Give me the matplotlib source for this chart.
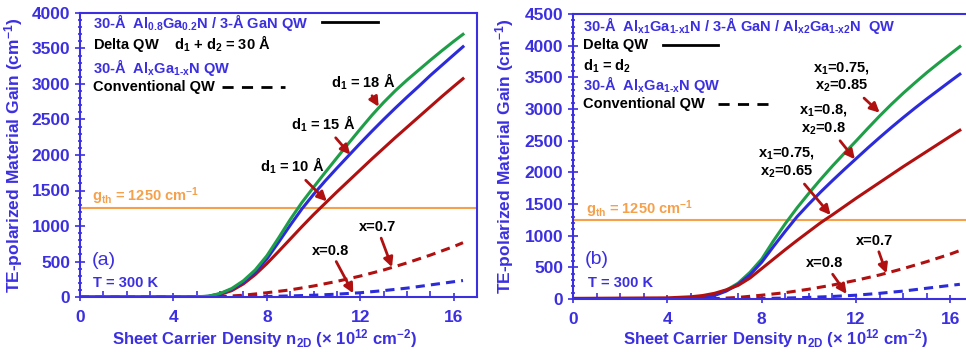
import matplotlib
matplotlib.use("Agg")
import matplotlib.pyplot as plt
from matplotlib.ticker import MultipleLocator

plt.rcParams['font.family'] = ['Liberation Sans', 'DejaVu Sans']
plt.rcParams['font.weight'] = 'bold'
plt.rcParams['axes.labelweight'] = 'bold'
plt.rcParams['mathtext.fontset'] = 'custom'
plt.rcParams['mathtext.rm'] = 'Liberation Sans:bold'
plt.rcParams['mathtext.it'] = 'Liberation Sans:bold'
plt.rcParams['mathtext.bf'] = 'Liberation Sans:bold'
plt.rcParams['mathtext.default'] = 'rm'

# carrier density (x 10^12 cm^-2)
n_delta = [0, 4, 5, 5.5, 6, 6.5, 7, 7.5, 8, 8.5, 9, 9.5, 10, 10.5, 11, 11.5, 12, 12.5,
           13, 13.5, 14, 14.5, 15, 15.5, 16, 16.4]
n_conv = [0, 5, 6, 7, 8, 9, 10, 11, 12, 13, 14, 15, 16, 16.4]

# panel (a): delta QW, d1 + d2 = 30 A
gain_d18 = [0, 0, 3, 12, 50, 120, 230, 380, 580, 830, 1090, 1330, 1545, 1755, 1960, 2165, 2365, 2560,
            2740, 2905, 3055, 3195, 3335, 3470, 3600, 3700]
gain_d15 = [0, 0, 2, 10, 45, 110, 210, 350, 535, 770, 1010, 1240, 1445, 1635, 1815, 1990, 2165, 2335,
            2500, 2660, 2815, 2965, 3120, 3265, 3410, 3525]
gain_d10 = [0, 0, 2, 8, 35, 90, 185, 315, 470, 640, 815, 990, 1160, 1320, 1480, 1635, 1790, 1945,
            2095, 2245, 2390, 2535, 2680, 2825, 2965, 3075]

# panel (b): asymmetric delta QW, d1 = d2
gain_085 = [0, 0, 5, 20, 65, 140, 250, 420, 630, 920, 1190, 1440, 1670, 1890, 2100, 2300, 2495, 2695,
            2890, 3075, 3250, 3415, 3575, 3725, 3870, 3985]
gain_080 = [0, 0, 3, 15, 55, 125, 230, 380, 580, 830, 1070, 1300, 1500, 1690, 1870, 2045, 2215, 2385,
            2550, 2710, 2865, 3015, 3160, 3300, 3440, 3550]
gain_065 = [10, 18, 35, 55, 90, 145, 215, 330, 480, 630, 780, 925, 1065, 1205, 1330, 1460, 1590, 1715,
            1840, 1965, 2090, 2210, 2330, 2450, 2570, 2665]

# conventional 30-A AlGaN QWs
gain_x07 = [0, 0, 5, 25, 60, 100, 155, 220, 295, 380, 480, 590, 710, 765]
gain_x08 = [0, 0, 0, 3, 8, 15, 25, 40, 60, 90, 125, 170, 215, 232]

g_th = 1250

BLUE_TXT = '#3b2fe0'
GREEN = '#1f9e48'
BLUE = '#2b2bdb'
RED = '#b01010'
ORANGE = '#f5a04a'

fig = plt.figure(figsize=(9.66, 3.52), dpi=100)
ax_a = fig.add_axes([80 / 966, 55 / 352, 397 / 966, 284 / 352])
ax_b = fig.add_axes([573 / 966, 53 / 352, 401 / 966, 285 / 352])


def style_axes(ax, ymax, ylab_x, xlab_x, xlab_y):
    ax.set_xlim(0, 17)
    ax.set_ylim(0, ymax)
    ax.xaxis.set_major_locator(MultipleLocator(4))
    ax.xaxis.set_minor_locator(MultipleLocator(1))
    ax.yaxis.set_major_locator(MultipleLocator(500))
    ax.yaxis.set_minor_locator(MultipleLocator(100))
    for s in ax.spines.values():
        s.set_color(BLUE_TXT)
        s.set_linewidth(1.5)
    ax.tick_params(axis='both', which='both', colors=BLUE_TXT, labelsize=12.5, width=1.2)
    ax.tick_params(axis='y', which='major', direction='inout', length=7)
    ax.tick_params(axis='y', which='minor', direction='inout', length=3.5)
    ax.tick_params(axis='x', which='major', direction='inout', length=6, pad=6)
    ax.tick_params(axis='x', which='minor', direction='in', length=4)
    for lab in ax.get_xticklabels() + ax.get_yticklabels():
        lab.set_fontweight('bold')
    ax.set_ylabel('TE-polarized Material Gain (cm$^{-1}$)', color=BLUE_TXT, fontsize=12.5)
    ax.set_xlabel('Sheet Carrier Density n$_{2D}$ (× 10$^{12}$ cm$^{-2}$)', color=BLUE_TXT, fontsize=12)
    ax.yaxis.set_label_coords(ylab_x, 0.5)
    ax.xaxis.set_label_coords(xlab_x, xlab_y)
    ax.axhline(g_th, color=ORANGE, lw=1.5, zorder=1)


def note(ax, text, xy, xytext):
    ax.annotate(text, xy=xy, xytext=xytext, ha='center', va='center', fontsize=10.5, color='black',
                arrowprops=dict(arrowstyle='-|>', color=RED, lw=2, mutation_scale=14, shrinkA=1, shrinkB=0))


# ---------- panel (a) ----------
ax = ax_a
style_axes(ax, 4000, -0.139, 0.466, -0.105)
ax.plot(n_conv, gain_x07, color=RED, lw=2.2, ls=(0, (3, 2)))
ax.plot(n_conv, gain_x08, color=BLUE, lw=2.2, ls=(0, (3, 2)))
ax.plot(n_delta, gain_d10, color=RED, lw=2.2)
ax.plot(n_delta, gain_d15, color=BLUE, lw=2.2)
ax.plot(n_delta, gain_d18, color=GREEN, lw=2.2)

ax.text(0.56, 3870, '30-Å  Al$_{0.8}$Ga$_{0.2}$N / 3-Å GaN QW', color=BLUE_TXT, fontsize=10.5, va='center')
ax.plot([10.37, 12.77], [3870, 3870], color='black', lw=2)
ax.text(0.56, 3575, 'Delta QW    d$_1$ + d$_2$ = 30 Å', color='black', fontsize=10.5, va='center')
ax.text(0.56, 3236, '30-Å  Al$_x$Ga$_{1\\text{-}x}$N QW', color=BLUE_TXT, fontsize=10.5, va='center')
ax.text(0.56, 2953, 'Conventional QW', color='black', fontsize=10.5, va='center')
ax.plot([6.09, 8.79], [2953, 2953], color='black', lw=2, ls=(0, (4, 3)))
note(ax, 'd$_1$ = 18 Å', (12.79, 2680), (12.14, 3034))
note(ax, 'd$_1$ = 15 Å', (11.57, 2006), (10.43, 2440))
note(ax, 'd$_1$ = 10 Å', (10.57, 1347), (9.07, 1841))
note(ax, 'x=0.7', (13.36, 420), (12.72, 985))
note(ax, 'x=0.8', (11.7, 52), (10.72, 654))
ax.text(0.5, 1420, 'g$_{th}$ = 1250 cm$^{-1}$', color=ORANGE, fontsize=10.5, va='center')
ax.text(0.5, 509, '(a)', color=BLUE_TXT, fontsize=14, fontweight='normal', va='center')
ax.text(0.56, 198, 'T = 300 K', color=BLUE_TXT, fontsize=10.5, va='center')

# ---------- panel (b) ----------
ax = ax_b
style_axes(ax, 4500, -0.142, 0.504, -0.098)
ax.plot(n_conv, gain_x07, color=RED, lw=2.2, ls=(0, (3, 2)))
ax.plot(n_conv, gain_x08, color=BLUE, lw=2.2, ls=(0, (3, 2)))
ax.plot(n_delta, gain_085, color=GREEN, lw=2.2)
ax.plot(n_delta, gain_080, color=BLUE, lw=2.2)
ax.plot(n_delta, gain_065, color=RED, lw=2.2)

ax.text(0.42, 4326, '30-Å  Al$_{x1}$Ga$_{1\\text{-}x1}$N / 3-Å GaN / Al$_{x2}$Ga$_{1\\text{-}x2}$N  QW',
        color=BLUE_TXT, fontsize=10.5, va='center')
ax.text(0.42, 4011, 'Delta QW', color='black', fontsize=10.5, va='center')
ax.plot([3.81, 6.14], [4011, 4011], color='black', lw=2)
ax.text(0.42, 3679, 'd$_1$ = d$_2$', color='black', fontsize=10.5, va='center')
ax.text(0.42, 3379, '30-Å  Al$_x$Ga$_{1\\text{-}x}$N QW', color=BLUE_TXT, fontsize=10.5, va='center')
ax.text(0.42, 3079, 'Conventional QW', color='black', fontsize=10.5, va='center')
ax.plot([6.14, 8.47], [3079, 3079], color='black', lw=2, ls=(0, (4, 3)))
note(ax, 'x$_1$=0.75,\nx$_2$=0.85', (13.0, 2942), (11.38, 3505))
note(ax, 'x$_1$=0.8,\nx$_2$=0.8', (11.95, 2206), (10.6, 2834))
note(ax, 'x$_1$=0.75,\nx$_2$=0.65', (10.92, 1326), (9.05, 2150))
note(ax, 'x=0.7', (13.29, 405), (12.8, 921))
note(ax, 'x=0.8', (11.6, 79), (10.68, 563))
ax.text(0.55, 1421, 'g$_{th}$ = 1250 cm$^{-1}$', color=ORANGE, fontsize=10.5, va='center')
ax.text(0.5, 616, '(b)', color=BLUE_TXT, fontsize=14, fontweight='normal', va='center')
ax.text(0.64, 253, 'T = 300 K', color=BLUE_TXT, fontsize=10.5, va='center')

fig.savefig('out.png', dpi=100)
